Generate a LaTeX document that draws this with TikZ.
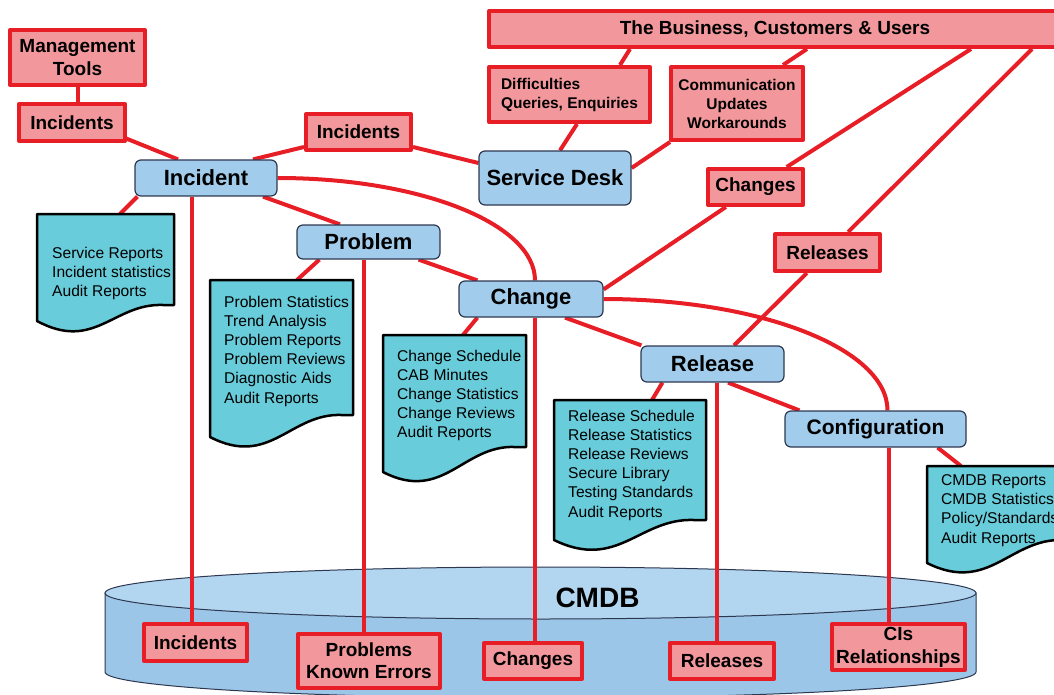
\documentclass[tikz,border=0pt]{standalone}
\usepackage{fontspec}
\setmainfont{Liberation Sans}

\definecolor{linered}{RGB}{232,30,38}
\definecolor{labelpink}{RGB}{242,152,156}
\definecolor{procblue}{RGB}{162,204,236}
\definecolor{procedge}{RGB}{45,55,80}
\definecolor{reportcyan}{RGB}{104,204,218}
\definecolor{dbtop}{RGB}{178,214,240}
\definecolor{dbside}{RGB}{156,198,232}

\pgfdeclarelayer{background}
\pgfsetlayers{background,main}

\tikzset{
	tag/.style={draw=linered, line width=4pt, fill=labelpink, inner sep=0pt, align=center, font=\bfseries\fontsize{19}{23}\selectfont},
	small tag/.style={tag, font=\bfseries\fontsize{15.5}{19}\selectfont},
	proc/.style={draw=procedge, line width=1.2pt, fill=procblue, rounded corners=6pt, inner sep=0pt, font=\bfseries\fontsize{22}{24}\selectfont},
	link/.style={draw=linered, line width=4pt},
	report/.style={draw=black, line width=2.5pt, fill=reportcyan, line join=round},
	reporttext/.style={inner sep=0pt, align=left, anchor=north west, font=\fontsize{15.6}{19.2}\selectfont},
}

% left, top, right, right bottom, left bottom
\newcommand{\docpage}[5]{%
	\pgfmathsetmacro{\dw}{#3-#1}
	\draw[report] (#1,#2) -- (#3,#2) -- (#3,#4) -- ({#3-0.08*\dw},#4)
	.. controls ({#1+0.56*\dw},{#4-2}) and ({#1+0.42*\dw},{#5+31}) .. (#1,#5) -- cycle;}

\begin{document}
\begin{tikzpicture}[x=1pt, y=-1pt, line join=round]
	\useasboundingbox (0,0) rectangle (1054,695);
	
	% top labels
	\node[tag, minimum width=135, minimum height=55] (mgmt) at (77.5,57.5) {Management\\Tools};
	\node[tag, minimum width=106, minimum height=37] (incA) at (72,122.5) {Incidents};
	\node[tag, minimum width=105, minimum height=36] (incB) at (358.5,132) {Incidents};
	\node[tag, minimum width=572, minimum height=36] (biz) at (775,29) {The Business, Customers \& Users};
	\node[small tag, align=left, minimum width=161, minimum height=55] (query) at (569.5,94.5) {Difficulties\\Queries, Enquiries};
	\node[small tag, minimum width=132, minimum height=73] (comms) at (737,103.5) {Communication\\Updates\\Workarounds};
	\node[tag, minimum width=95, minimum height=36] (chgU) at (755.5,187) {Changes};
	\node[tag, minimum width=105, minimum height=37] (relU) at (827.5,252.5) {Releases};
	
	% processes
	\node[proc, minimum width=142, minimum height=36] (incident) at (206,178) {Incident};
	\node[proc, minimum width=152, minimum height=54] (sdesk) at (555,178) {Service Desk};
	\node[proc, minimum width=143, minimum height=34] (problem) at (368.5,242) {Problem};
	\node[proc, minimum width=144, minimum height=36] (change) at (531,299) {Change};
	\node[proc, minimum width=143, minimum height=36] (release) at (712.5,364) {Release};
	\node[proc, minimum width=181, minimum height=36, font=\bfseries\fontsize{21}{24}\selectfont] (config) at (875.5,429) {Configuration};
	
	% reports
	\docpage{37}{214}{174}{305}{321}
	\docpage{210}{280}{353}{415}{437}
	\docpage{383}{335}{526}{447}{472}
	\docpage{554}{400}{706}{520}{540}
	\docpage{927}{466}{1075}{540}{563}
	\node[reporttext] (srtext) at (52,246.5) {Service Reports\\Incident statistics\\Audit Reports};
	\node[reporttext] (prbtext) at (224,295.5) {Problem Statistics\\Trend Analysis\\Problem Reports\\Problem Reviews\\Diagnostic Aids\\Audit Reports};
	\node[reporttext] (chgtext) at (397,349.5) {Change Schedule\\CAB Minutes\\Change Statistics\\Change Reviews\\Audit Reports};
	\node[reporttext] (reltext) at (568,409.5) {Release Schedule\\Release Statistics\\Release Reviews\\Secure Library\\Testing Standards\\Audit Reports};
	\node[reporttext] (cfgtext) at (941,474.5) {CMDB Reports\\CMDB Statistics\\Policy/Standards\\Audit Reports};
	\coordinate (srtop) at (120,214);
	\coordinate (prbtop) at (297,280);
	\coordinate (chgtop) at (463,335);
	\coordinate (reltop) at (652,400);
	\coordinate (cfgtop) at (961,466);
	
	% CMDB contents
	\node[font=\bfseries\fontsize{28}{30}\selectfont] (cmdb) at (597.5,598) {CMDB};
	\node[tag, minimum width=103, minimum height=37] (incC) at (195.5,642.5) {Incidents};
	\node[tag, minimum width=142, minimum height=54, font=\bfseries\fontsize{19}{22}\selectfont] (prbC) at (369,661) {Problems\\Known Errors};
	\node[tag, minimum width=98, minimum height=36] (chgC) at (533,661) {Changes};
	\node[tag, minimum width=104, minimum height=36] (relC) at (722,661) {Releases};
	\node[tag, minimum width=133, minimum height=46] (ciC) at (898.5,647) {CIs\\Relationships};
	
	\coordinate (incfoot) at ([xshift=-14pt]incident.south);
	\coordinate (prbfoot) at ([xshift=-4.5pt]problem.south);
	\coordinate (chgfoot) at ([xshift=4pt]change.south);
	\coordinate (relfoot) at ([xshift=4.5pt]release.south);
	\coordinate (cfgfoot) at ([xshift=13.5pt]config.south);
	
	\begin{pgfonlayer}{background}
		% database
		\draw[fill=dbside, draw=procedge, line width=1pt] (105,593) -- (105,672) .. controls (105,686.4) and (300.1,698) .. (540.5,698) .. controls (780.9,698) and (976,686.4) .. (976,672) -- (976,593) -- cycle;
		\draw[fill=dbtop, draw=procedge, line width=1pt] (540.5,593) ellipse [x radius=435.5, y radius=26];
		
		\draw[link] (mgmt.south) -- (mgmt.south |- incA.north);
		\draw[link] ([xshift=-2pt,yshift=5pt]incA.south east) -- ([xshift=-28pt]incident.north);
		\draw[link] ([xshift=47pt]incident.north) -- ([yshift=5pt]incB.south west);
		\draw[link] ([yshift=5pt]incB.south east) -- ([yshift=15pt]sdesk.west);
		\draw[link] ([xshift=143pt]biz.south west) -- ([xshift=133pt]query.north west);
		\draw[link] ([xshift=90pt]query.south west) -- ([xshift=5pt]sdesk.north);
		\draw[link] ([xshift=320pt]biz.south west) -- ([xshift=114pt]comms.north west);
		\draw[link] ([xshift=1pt]comms.south west) -- ([yshift=10pt]sdesk.east);
		\draw[link] ([xshift=484pt]biz.south west) -- (chgU) -- ([yshift=-9pt]change.north east);
		\draw[link] ([xshift=545pt]biz.south west) -- (relU) -- ([xshift=21.5pt]release.north);
		
		\draw[link] (incident.east) .. controls +(142,0) and +(0,-57) .. ([xshift=4pt]change.north);
		\draw[link] (change.east) .. controls +(156,0) and +(0,-62) .. ([xshift=12pt]config.north);
		
		\draw[link] ([xshift=3pt]incident.south west) -- (srtop);
		\draw[link] ([xshift=57pt]incident.south) -- ([xshift=-28.5pt]problem.north);
		\draw[link] ([xshift=23pt]problem.south west) -- (prbtop);
		\draw[link] ([xshift=-22pt]problem.south east) -- ([xshift=19pt]change.north west);
		\draw[link] ([xshift=19pt]change.south west) -- (chgtop);
		\draw[link] ([xshift=34pt]change.south) -- ([xshift=1pt]release.north west);
		\draw[link] ([xshift=22pt]release.south west) -- (reltop);
		\draw[link] ([xshift=15.5pt]release.south) -- ([xshift=15pt]config.north west);
		\draw[link] ([xshift=-29pt]config.south east) -- (cfgtop);
		
		\draw[link] (incfoot) -- (incfoot |- incC.north);
		\draw[link] (prbfoot) -- (prbfoot |- prbC.north);
		\draw[link] (chgfoot) -- (chgfoot |- chgC.north);
		\draw[link] (relfoot) -- (relfoot |- relC.north);
		\draw[link] (cfgfoot) -- (cfgfoot |- ciC.north);
	\end{pgfonlayer}
\end{tikzpicture}
\end{document}
